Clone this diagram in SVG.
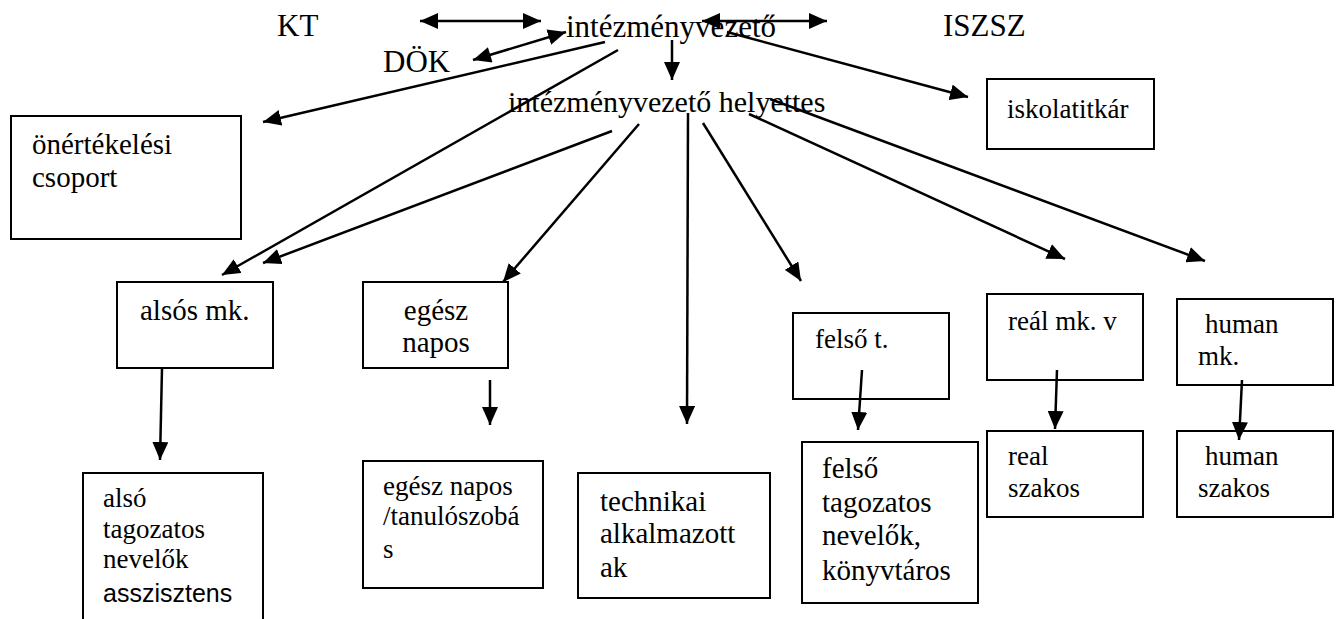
<svg xmlns="http://www.w3.org/2000/svg" width="1340" height="619" viewBox="0 0 1340 619">
<style>
.box{fill:#fff;stroke:#000;stroke-width:2}
.hd{font-size:31px}
.lb{font-size:29px}
.sm{font-size:27px}
.c line{stroke:#000;stroke-width:2.5;marker-end:url(#ah)}
.c line.d{marker-start:url(#ahs)}
</style>
<defs>
<marker id="ah" markerUnits="userSpaceOnUse" markerWidth="20" markerHeight="16" refX="18" refY="8" orient="auto"><path d="M0,0 L18,8 L0,16 Z" fill="#000"/></marker>
<marker id="ahs" markerUnits="userSpaceOnUse" markerWidth="20" markerHeight="16" refX="0" refY="8" orient="auto"><path d="M18,0 L0,8 L18,16 Z" fill="#000"/></marker>
</defs>
<rect width="1340" height="619" fill="#fff"/>
<g font-family="'Liberation Serif', 'Times New Roman', serif" fill="#000">
<g id="kt"><text class="hd" x="277" y="36">KT</text></g>
<g id="intezmenyvezeto"><text class="hd" x="566" y="37">intézményvezető</text></g>
<g id="iszsz"><text class="hd" x="943" y="36">ISZSZ</text></g>
<g id="dok"><text class="hd" x="383" y="72">DÖK</text></g>
<g id="helyettes"><text font-size="30" x="508" y="112">intézményvezető helyettes</text></g>
<g id="onertekelesi"><rect class="box" x="11" y="116" width="230" height="123"/><text class="lb" x="32" y="154">önértékelési</text><text class="lb" x="32" y="187">csoport</text></g>
<g id="iskolatitkar"><rect class="box" x="987" y="79" width="167" height="70"/><text class="sm" x="1007" y="118">iskolatitkár</text></g>
<g id="alsos-mk"><rect class="box" x="117" y="282" width="156" height="86"/><text class="lb" x="140" y="320">alsós mk.</text></g>
<g id="egesz-napos"><rect class="box" x="363" y="282" width="145" height="86"/><text class="lb" x="436" y="320" text-anchor="middle">egész</text><text class="lb" x="436" y="352" text-anchor="middle">napos</text></g>
<g id="also-tagozatos"><path class="box" d="M83,625 V473 H263 V625"/><text class="sm" x="103" y="507">alsó</text><text class="sm" x="103" y="538">tagozatos</text><text class="sm" x="103" y="568">nevelők</text><text font-family="'Liberation Sans', Arial, sans-serif" font-size="25" x="103" y="602">asszisztens</text></g>
<g id="egesz-napos-tanulo"><rect class="box" x="363" y="461" width="180" height="127"/><text class="sm" x="383" y="495">egész napos</text><text class="sm" x="383" y="525">/tanulószobá</text><text class="sm" x="383" y="558">s</text></g>
<g id="technikai"><rect class="box" x="578" y="473" width="192" height="125"/><text class="lb" x="600" y="511">technikai</text><text class="lb" x="600" y="543">alkalmazott</text><text class="lb" x="600" y="577">ak</text></g>
<g id="felso-t"><rect class="box" x="793" y="313" width="156" height="86"/><text class="sm" x="815" y="348">felső t.</text></g>
<g id="felso-tagozatos"><rect class="box" x="802" y="442" width="176" height="161"/><text class="lb" x="822" y="478">felső</text><text class="lb" x="822" y="512">tagozatos</text><text class="lb" x="822" y="545">nevelők,</text><text class="lb" x="822" y="580">könyvtáros</text></g>
<g id="real-mk"><rect class="box" x="987" y="294" width="156" height="86"/><text class="sm" x="1008" y="330">reál mk. v</text></g>
<g id="real-szakos"><rect class="box" x="987" y="431" width="156" height="86"/><text class="sm" x="1008" y="465">real</text><text class="sm" x="1008" y="497">szakos</text></g>
<g id="human-mk"><rect class="box" x="1177" y="299" width="156" height="86"/><text class="sm" x="1205" y="333">human</text><text class="sm" x="1198" y="365">mk.</text></g>
<g id="human-szakos"><rect class="box" x="1177" y="431" width="156" height="86"/><text class="sm" x="1205" y="465">human</text><text class="sm" x="1198" y="497">szakos</text></g>
</g>
<g id="connectors" class="c">
<line class="d" x1="420" y1="21" x2="541" y2="21"/>
<line class="d" x1="702" y1="21" x2="827" y2="21"/>
<line class="d" x1="473" y1="60" x2="566" y2="32"/>
<line x1="605" y1="42" x2="263" y2="122"/>
<line x1="618" y1="50" x2="222" y2="275"/>
<line x1="672" y1="40" x2="672" y2="80"/>
<line x1="727" y1="32" x2="968" y2="97"/>
<line x1="612" y1="131" x2="263" y2="263"/>
<line x1="639" y1="124" x2="503" y2="282"/>
<line x1="688" y1="113" x2="687" y2="424"/>
<line x1="703" y1="123" x2="801" y2="281"/>
<line x1="749" y1="114" x2="1065" y2="259"/>
<line x1="770" y1="99" x2="1205" y2="261"/>
<line x1="162" y1="368" x2="160" y2="460"/>
<line x1="490" y1="380" x2="490" y2="425"/>
<line x1="862" y1="370" x2="858" y2="430"/>
<line x1="1057" y1="370" x2="1055" y2="429"/>
<line x1="1242" y1="380" x2="1239" y2="440"/>
</g>
</svg>
